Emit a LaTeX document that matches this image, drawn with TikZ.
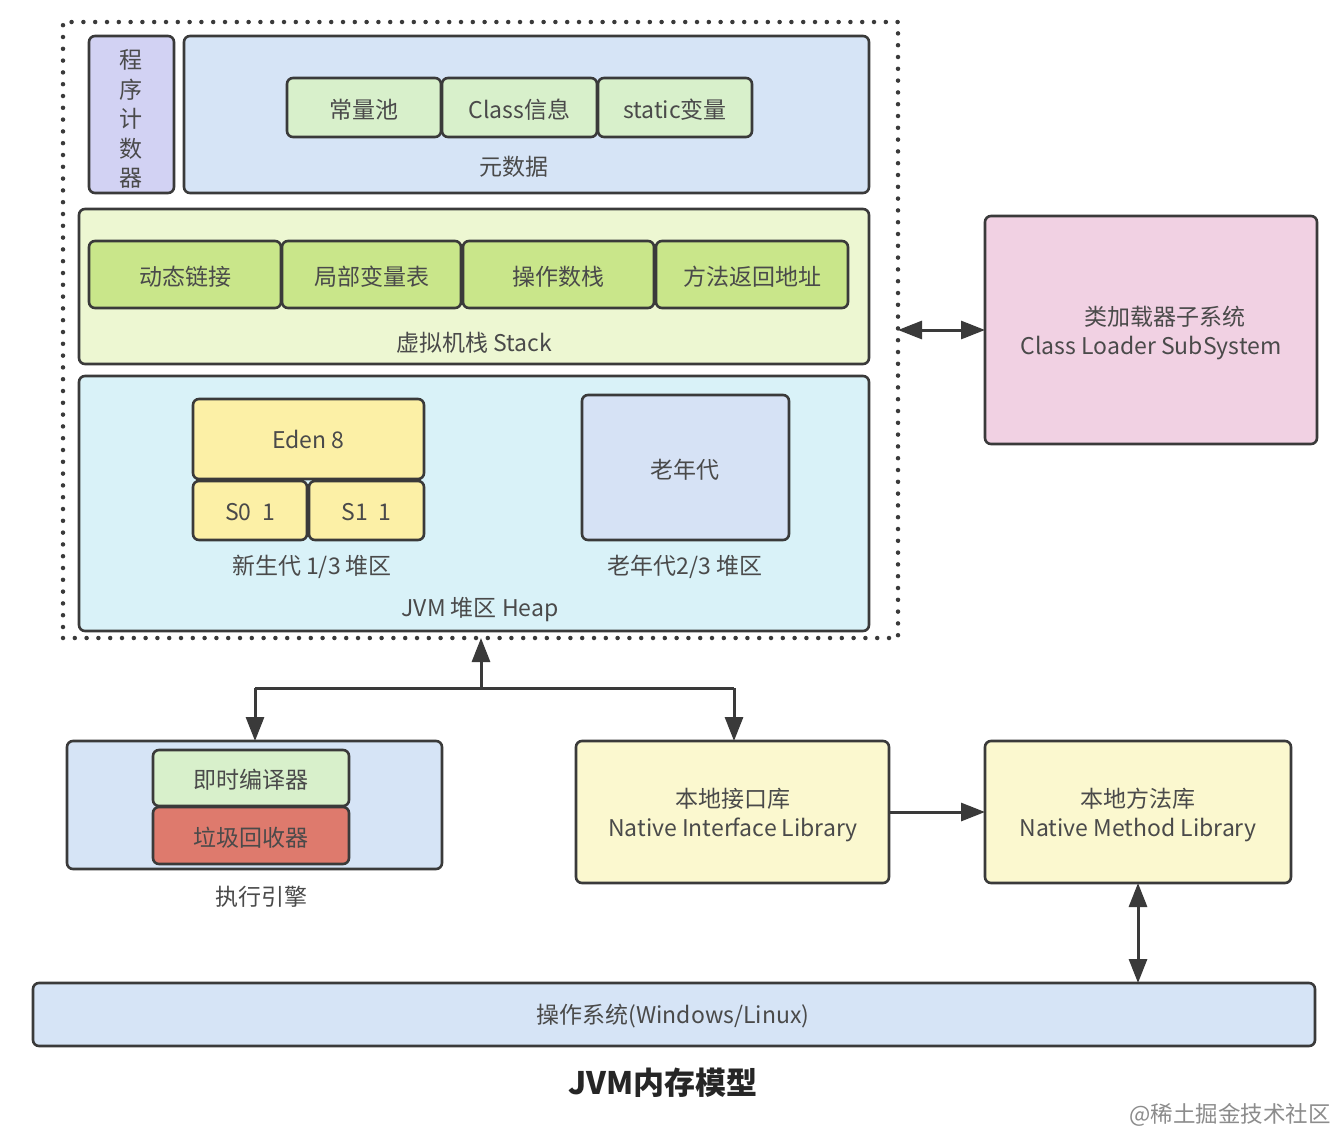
\documentclass[tikz,border=0pt]{standalone}
\usepackage{fontspec}
\setmainfont{Noto Sans CJK SC}
\usetikzlibrary{arrows.meta,fit}
\definecolor{bordc}{HTML}{3A3A3A}
\definecolor{txtc}{HTML}{4A4A4A}
\definecolor{lavc}{HTML}{D2D2F3}
\definecolor{metac}{HTML}{D6E4F6}
\definecolor{lgreenc}{HTML}{D8F0CB}
\definecolor{stackc}{HTML}{EDF7D2}
\definecolor{stsubc}{HTML}{C9E68A}
\definecolor{heapc}{HTML}{D9F2F8}
\definecolor{edenc}{HTML}{FCF0A6}
\definecolor{oldc}{HTML}{D6E2F5}
\definecolor{pinkc}{HTML}{F1D1E3}
\definecolor{redc}{HTML}{DE7A6D}
\definecolor{nyelc}{HTML}{FBF8CF}
\tikzset{
  box/.style={draw=bordc, line width=2.6pt, rounded corners=6pt, inner sep=0pt, outer sep=0pt, text=txtc, font=\fontsize{23}{28}\selectfont, align=center},
  lbl/.style={text=txtc, font=\fontsize{23}{28.5}\selectfont, align=center, inner sep=0pt},
  conn/.style={draw=bordc, line width=3pt, -{Triangle[length=24pt,width=18pt]}},
  dconn/.style={draw=bordc, line width=3pt, {Triangle[length=24pt,width=18pt]}-{Triangle[length=24pt,width=18pt]}}
}
\begin{document}
\begin{tikzpicture}[x=1pt,y=-1pt]
\fill[white] (0,0) rectangle (1337,1146);
\useasboundingbox (0,0) rectangle (1337,1146);
% outer dotted region
\node[draw=bordc, line width=4.5pt, dash pattern=on 0pt off 11.8pt, line cap=round, inner sep=0pt, outer sep=0pt, fit={(63,22)(898,638)}] (outer) {};
% program counter
\node[box, fill=lavc, fit={(89,36)(174,193)}] (pc) {};
\node[lbl, font=\fontsize{23}{29.5}\selectfont] at (131,119) {程\\序\\计\\数\\器};
% metadata
\node[box, fill=metac, fit={(184,36)(869,193)}] (meta) {};
\node[box, fill=lgreenc, fit={(287,78)(441,137)}] (cpool) {};
\node[lbl] at ([yshift=-2pt]cpool.center) {常量池};
\node[box, fill=lgreenc, fit={(442,78)(597,137)}] (cinfo) {};
\node[lbl] at ([yshift=-2pt]cinfo.center) {Class信息};
\node[box, fill=lgreenc, fit={(598,78)(752,137)}] (svar) {};
\node[lbl] at ([yshift=-2pt]svar.center) {static变量};
\node[lbl] at (514,167) {元数据};
% stack
\node[box, fill=stackc, fit={(79,209)(869,364)}] (stack) {};
\node[box, fill=stsubc, fit={(89,241)(281,308)}] (dl) {};
\node[lbl] at ([yshift=-2pt]dl.center) {动态链接};
\node[box, fill=stsubc, fit={(282,241)(461,308)}] (lv) {};
\node[lbl] at ([yshift=-2pt]lv.center) {局部变量表};
\node[box, fill=stsubc, fit={(463,241)(654,308)}] (os1) {};
\node[lbl] at ([yshift=-2pt]os1.center) {操作数栈};
\node[box, fill=stsubc, fit={(656,241)(848,308)}] (ra) {};
\node[lbl] at ([yshift=-2pt]ra.center) {方法返回地址};
\node[lbl] at (474,343) {虚拟机栈 Stack};
% heap
\node[box, fill=heapc, fit={(79,376)(869,631)}] (heap) {};
\node[box, fill=edenc, fit={(193,399)(424,479)}] (eden) {};
\node[lbl] at (eden.center) {Eden 8};
\node[box, fill=edenc, fit={(193,481)(307,540)}] (s0) {};
\node[lbl] at ([yshift=-2pt]s0.center) {S0\ \ 1};
\node[box, fill=edenc, fit={(309,481)(424,540)}] (s1) {};
\node[lbl] at ([yshift=-2pt]s1.center) {S1\ \ 1};
\node[lbl] at (312,567) {新生代 1/3 堆区};
\node[box, fill=oldc, fit={(582,395)(789,540)}] (old) {};
\node[lbl] at (685,470) {老年代};
\node[lbl] at (685,567) {老年代2/3 堆区};
\node[lbl] at (480,610) {JVM 堆区 Heap};
% class loader
\node[box, fill=pinkc, fit={(985,216)(1317,444)}] (cl) {};
\node[lbl] at (1151,333) {\hspace*{28pt}类加载器子系统\\Class Loader SubSystem};
\draw[dconn] (outer.east |- cl.west) -- (cl.west);
% execution engine
\node[box, fill=metac, fit={(67,741)(442,869)}] (ee) {};
\node[box, fill=lgreenc, fit={(153,750)(349,806)}] (jit) {};
\node[lbl] at ([yshift=-2pt]jit.center) {即时编译器};
\node[box, fill=redc, fit={(153,807)(349,864)}] (gc) {};
\node[lbl] at ([yshift=-2pt]gc.center) {垃圾回收器};
\node[lbl] at (261,897) {执行引擎};
% native libraries
\node[box, fill=nyelc, fit={(576,741)(889,883)}] (nil) {};
\node[lbl] at (733,815) {本地接口库\\Native Interface Library};
\node[box, fill=nyelc, fit={(985,741)(1291,883)}] (nml) {};
\node[lbl] at (1138,815) {本地方法库\\Native Method Library};
% OS
\node[box, fill=metac, fit={(33,983)(1315,1046)}] (osys) {};
\node[lbl] at (673,1016) {操作系统(Windows/Linux)};
% connectors
\coordinate (jn) at (481,688);
\coordinate (jl) at (255,688);
\coordinate (jr) at (734,688);
\draw[conn] (jn) -- (jn |- outer.south);
\draw[draw=bordc, line width=3pt] (jl) -- (jr);
\draw[conn] (jl) -- (jl |- ee.north);
\draw[conn] (jr) -- (jr |- nil.north);
\draw[conn] (nil.east) -- (nml.west);
\draw[dconn] (nml.south) -- (nml.south |- osys.north);
% title and credit
\node[inner sep=0pt, text=black!85, font=\fontsize{31}{36}\selectfont\bfseries] (title) at (663,1083) {JVM内存模型};
\node[inner sep=0pt, text=black!45, font=\fontsize{22.5}{26}\selectfont] (credit) at (1230,1115) {@稀土掘金技术社区};
\end{tikzpicture}
\end{document}
